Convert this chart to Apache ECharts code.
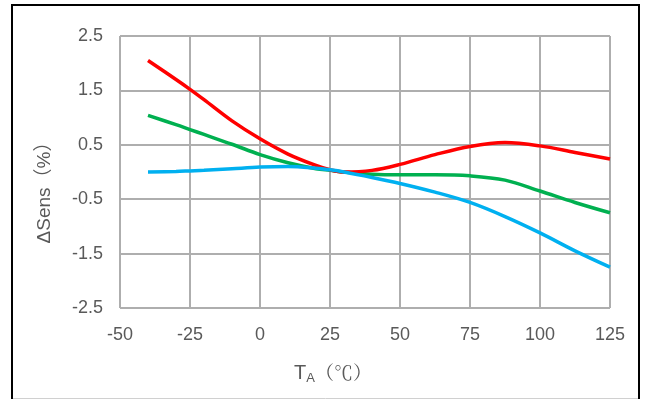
<!DOCTYPE html>
<html>
<head>
<meta charset="utf-8">
<style>
  html, body { margin: 0; padding: 0; background: #fff; }
  #chart { width: 645px; height: 399px; }
</style>
<script src="https://cdn.jsdelivr.net/npm/echarts@6/dist/echarts.min.js"></script>
</head>
<body>
<div id="chart"></div>
<script>
// Temperature points (°C)
const temps = [-40, -30, -25, -20, -10, 0, 10, 20, 25, 30, 40, 50, 62.5, 75, 87.5, 100, 112.5, 125];
// ΔSens (%) series
const redValues   = [2.05, 1.70, 1.52, 1.33, 0.94, 0.61, 0.33, 0.12, 0.04, 0.00, 0.03, 0.14, 0.32, 0.47, 0.54, 0.48, 0.36, 0.24];
const greenValues = [1.04, 0.87, 0.78, 0.69, 0.51, 0.32, 0.17, 0.06, 0.03, 0.00, -0.04, -0.05, -0.05, -0.07, -0.15, -0.35, -0.56, -0.75];
const blueValues  = [0.00, 0.01, 0.02, 0.03, 0.06, 0.09, 0.10, 0.07, 0.04, 0.00, -0.10, -0.21, -0.37, -0.56, -0.82, -1.12, -1.45, -1.75];
// Axis ticks
const xTicks = [-50, -25, 0, 25, 50, 75, 100, 125];
const yTicks = [-2.5, -1.5, -0.5, 0.5, 1.5, 2.5];
const yTitle = 'ΔSens（%）';

const pairs = v => temps.map((t, i) => [t, v[i]]);

const chart = echarts.init(document.getElementById('chart'), null, { renderer: 'canvas' });
const labelColor = '#595959';
const gridColor = '#AEAEAE';
const sans = 'Liberation Sans, Arial, sans-serif';

chart.setOption({
  animation: false,
  backgroundColor: '#ffffff',
  grid: { left: 120, right: 35, top: 36, bottom: 91, containLabel: false },
  xAxis: {
    type: 'value',
    min: xTicks[0], max: xTicks[xTicks.length - 1], interval: 25,
    axisLine: { show: false },
    axisTick: { show: false },
    splitLine: { show: true, lineStyle: { color: gridColor, width: 2 } },
    axisLabel: { color: labelColor, fontFamily: sans, fontSize: 18, margin: 18 }
  },
  yAxis: {
    type: 'value',
    min: yTicks[0], max: yTicks[yTicks.length - 1], interval: 1,
    axisLine: { show: false },
    axisTick: { show: false },
    splitLine: { show: true, lineStyle: { color: gridColor, width: 2 } },
    axisLabel: {
      color: labelColor, fontFamily: sans, fontSize: 18, margin: 17,
      formatter: v => (Math.round(v * 10) / 10).toFixed(1)
    }
  },
  series: [
    { type: 'line', data: pairs(redValues), smooth: 0.35, symbol: 'none', lineStyle: { color: '#FF0000', width: 3.5 }, z: 3 },
    { type: 'line', data: pairs(greenValues), smooth: 0.35, symbol: 'none', lineStyle: { color: '#00B050', width: 3.5 }, z: 2 },
    { type: 'line', data: pairs(blueValues), smooth: 0.35, symbol: 'none', lineStyle: { color: '#00B0F0', width: 3.5 }, z: 4 }
  ],
  graphic: [
    { type: 'rect', shape: { x: 12, y: 5, width: 627, height: 420 }, style: { fill: 'none', stroke: '#000', lineWidth: 2 }, silent: true, z: 10 },
    { type: 'line', shape: { x1: 13, y1: 398.5, x2: 638, y2: 398.5 }, style: { stroke: '#d0d0d0', lineWidth: 1 }, silent: true, z: 10 },
    {
      type: 'text', x: 45, y: 188, rotation: Math.PI / 2, silent: true, z: 10,
      style: {
        text: yTitle, fill: labelColor, align: 'center', verticalAlign: 'middle',
        font: '19px "Liberation Sans", "Noto Sans CJK SC", sans-serif'
      }
    },
    {
      type: 'text', x: 333, y: 373, silent: true, z: 10,
      style: {
        text: '{t|T}{s|A}{p|（℃）}', align: 'center', verticalAlign: 'middle',
        rich: {
          t: { fontFamily: sans, fontSize: 20, fill: labelColor, color: labelColor, lineHeight: 24, verticalAlign: 'middle' },
          s: { fontFamily: sans, fontSize: 13, fill: labelColor, color: labelColor, lineHeight: 24, verticalAlign: 'bottom', padding: [10, 0, 0, 0] },
          p: { fontFamily: '"Noto Serif CJK SC", "Liberation Serif", "Noto Sans CJK SC", serif', fontSize: 19, fill: labelColor, color: labelColor, lineHeight: 24, verticalAlign: 'middle' }
        }
      }
    }
  ]
});
</script>
</body>
</html>
